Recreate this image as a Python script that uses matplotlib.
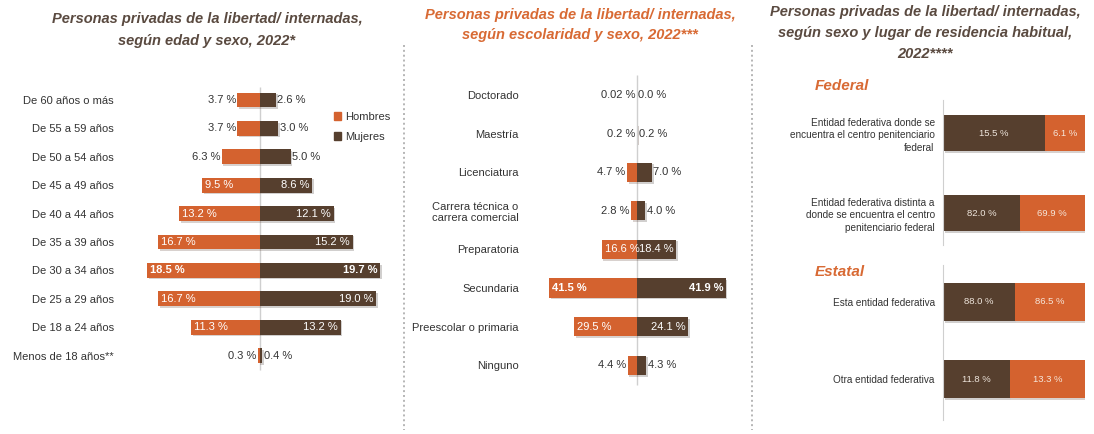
import matplotlib
matplotlib.use("Agg")
import matplotlib.pyplot as plt
import matplotlib.patheffects as pe
from matplotlib.lines import Line2D
from matplotlib.patches import Patch

plt.rcParams['font.family'] = ['Liberation Sans', 'DejaVu Sans']

# datos: edad y sexo
edades = ["De 60 años o más", "De 55 a 59 años", "De 50 a 54 años", "De 45 a 49 años",
          "De 40 a 44 años", "De 35 a 39 años", "De 30 a 34 años", "De 25 a 29 años",
          "De 18 a 24 años", "Menos de 18 años**"]
edad_hombres = [3.7, 3.7, 6.3, 9.5, 13.2, 16.7, 18.5, 16.7, 11.3, 0.3]
edad_mujeres = [2.6, 3.0, 5.0, 8.6, 12.1, 15.2, 19.7, 19.0, 13.2, 0.4]

# datos: escolaridad y sexo
escolaridad = ["Doctorado", "Maestría", "Licenciatura", "Carrera técnica o\ncarrera comercial",
               "Preparatoria", "Secundaria", "Preescolar o primaria", "Ninguno"]
esc_hombres = [0.02, 0.2, 4.7, 2.8, 16.6, 41.5, 29.5, 4.4]
esc_mujeres = [0.0, 0.2, 7.0, 4.0, 18.4, 41.9, 24.1, 4.3]
esc_hombres_txt = ["0.02 %", "0.2 %", "4.7 %", "2.8 %", "16.6 %", "41.5 %", "29.5 %", "4.4 %"]

# datos: lugar de residencia
federal_cat = ["Entidad federativa donde se\nencuentra el centro penitenciario\nfederal",
               "Entidad federativa distinta a\ndonde se encuentra el centro\npenitenciario federal"]
federal_mujeres = [15.5, 82.0]
federal_hombres = [6.1, 69.9]
estatal_cat = ["Esta entidad federativa", "Otra entidad federativa"]
estatal_mujeres = [88.0, 11.8]
estatal_hombres = [86.5, 13.3]

NARANJA = "#D4622F"
CAFE = "#563F2E"
GRIS_TXT = "#333333"
TIT_OSCURO = "#5A4A40"
LINEA = "#cfcfcf"
W, H = 1094, 434

sombra = [pe.withSimplePatchShadow(offset=(1.2, -1.2), alpha=0.2)]


def ax_px(x0, y0, x1, y1):
    return fig.add_axes([x0 / W, 1 - y1 / H, (x1 - x0) / W, (y1 - y0) / H])


def limpiar(ax):
    for s in ax.spines.values():
        s.set_visible(False)
    ax.set_xticks([])
    ax.tick_params(axis="y", length=0)


def piramide(ax, cats, hom, muj, umbral, alto, hom_txt=None):
    n = len(cats)
    y = list(range(n))
    bh = ax.barh(y, [-v for v in hom], height=alto, color=NARANJA)
    bm = ax.barh(y, muj, height=alto, color=CAFE)
    for b in list(bh) + list(bm):
        b.set_path_effects(sombra)
    imax = max(range(n), key=lambda i: hom[i] + muj[i])
    for i in range(n):
        peso = "bold" if i == imax else "normal"
        th = hom_txt[i] if hom_txt else f"{hom[i]:.1f} %"
        if hom[i] >= umbral:
            ax.annotate(th, (-hom[i], i), xytext=(2, 0), textcoords="offset points",
                        ha="left", va="center", color="white", fontsize=8, fontweight=peso)
        else:
            ax.annotate(th, (-hom[i], i), xytext=(-1, 0), textcoords="offset points",
                        ha="right", va="center", color=GRIS_TXT, fontsize=8)
        tm = f"{muj[i]:.1f} %"
        if muj[i] >= umbral:
            ax.annotate(tm, (muj[i], i), xytext=(-2, 0), textcoords="offset points",
                        ha="right", va="center", color="white", fontsize=8, fontweight=peso)
        else:
            ax.annotate(tm, (muj[i], i), xytext=(1, 0), textcoords="offset points",
                        ha="left", va="center", color=GRIS_TXT, fontsize=8)
    ax.set_yticks(y)
    ax.set_yticklabels(cats, fontsize=8, color=GRIS_TXT)
    limpiar(ax)


fig = plt.figure(figsize=(W / 100, H / 100), dpi=100)

# panel izquierdo
ax1 = ax_px(120, 80, 390, 380)
piramide(ax1, edades, edad_hombres, edad_mujeres, 8, 0.52)
ax1.vlines(0, -0.46, 9.5, color=LINEA, lw=1, zorder=0)
ax1.set_xlim(-(260 - 120) / 6.1, (390 - 260) / 6.1)
ax1.set_ylim((380 - 100) / 28.4, (80 - 100) / 28.4)
ax1.tick_params(axis="y", pad=4.5)
fig.legend(handles=[Patch(color=NARANJA, label="Hombres"), Patch(color=CAFE, label="Mujeres")],
           loc="upper left", bbox_to_anchor=(328 / W, 1 - 106 / H), frameon=False,
           fontsize=8, handlelength=0.7, handleheight=0.7, handletextpad=0.3,
           labelspacing=0.9, labelcolor=GRIS_TXT, borderpad=0)
fig.text(207 / W, 1 - 30 / H, "Personas privadas de la libertad/ internadas,\nsegún edad y sexo, 2022*",
         ha="center", va="center", fontsize=10.5, fontweight="bold", style="italic",
         color=TIT_OSCURO, linespacing=1.65)

# panel central
ax2 = ax_px(525, 70, 745, 395)
piramide(ax2, escolaridad, esc_hombres, esc_mujeres, 10, 0.5, esc_hombres_txt)
ax2.vlines(0, -0.52, 7.5, color=LINEA, lw=1, zorder=0)
ax2.set_xlim(-(637 - 525) / 2.12, (745 - 637) / 2.12)
ax2.set_ylim((395 - 95) / 38.6, (70 - 95) / 38.6)
ax2.tick_params(axis="y", pad=4.5)
fig.text(580 / W, 1 - 25 / H, "Personas privadas de la libertad/ internadas,\nsegún escolaridad y sexo, 2022***",
         ha="center", va="center", fontsize=10.5, fontweight="bold", style="italic",
         color="#D86A34", linespacing=1.5)

# panel derecho
def apiladas(ax, cats, muj, hom, alto):
    tot = [m + h for m, h in zip(muj, hom)]
    pm = [100 * m / t for m, t in zip(muj, tot)]
    ph = [100 * h / t for h, t in zip(hom, tot)]
    y = list(range(len(cats)))
    b1 = ax.barh(y, pm, height=alto, color=CAFE)
    b2 = ax.barh(y, ph, left=pm, height=alto, color=NARANJA)
    for b in list(b1) + list(b2):
        b.set_path_effects(sombra)
    for i in y:
        ax.text(pm[i] / 2, i, f"{muj[i]:.1f} %", ha="center", va="center",
                color="#EFE6DD", fontsize=6.8)
        ax.text(pm[i] + ph[i] / 2, i, f"{hom[i]:.1f} %", ha="center", va="center",
                color="#F5E6DA", fontsize=6.8)
    ax.set_yticks(y)
    ax.set_yticklabels(cats, fontsize=7.2, color=GRIS_TXT, linespacing=1.3)
    limpiar(ax)
    ax.spines["left"].set_visible(True)
    ax.spines["left"].set_color(LINEA)
    ax.set_xlim(0, 100)
    ax.tick_params(axis="y", pad=6)


ax3 = ax_px(943, 100, 1085, 245)
apiladas(ax3, federal_cat, federal_mujeres, federal_hombres, 0.46)
ax3.set_ylim((245 - 133) / 80, (100 - 133) / 80)

ax4 = ax_px(943, 265, 1085, 420)
apiladas(ax4, estatal_cat, estatal_mujeres, estatal_hombres, 0.5)
ax4.set_ylim((420 - 302) / 77, (265 - 302) / 77)

fig.text(925 / W, 1 - 33 / H,
         "Personas privadas de la libertad/ internadas,\nsegún sexo y lugar de residencia habitual,\n2022****",
         ha="center", va="center", fontsize=10.5, fontweight="bold", style="italic",
         color=TIT_OSCURO, linespacing=1.6)
fig.text(815 / W, 1 - 86 / H, "Federal", ha="left", va="center", fontsize=11,
         fontweight="bold", style="italic", color="#D86A34")
fig.text(815 / W, 1 - 272 / H, "Estatal", ha="left", va="center", fontsize=11,
         fontweight="bold", style="italic", color="#D86A34")

# separadores punteados
for xs in (404, 752):
    fig.add_artist(Line2D([xs / W, xs / W], [1 - 45 / H, 1 - 430 / H], linestyle=(0, (1, 1.5)),
                          color="#b5b5b5", lw=1.4))

fig.savefig("out.png", dpi=100)
